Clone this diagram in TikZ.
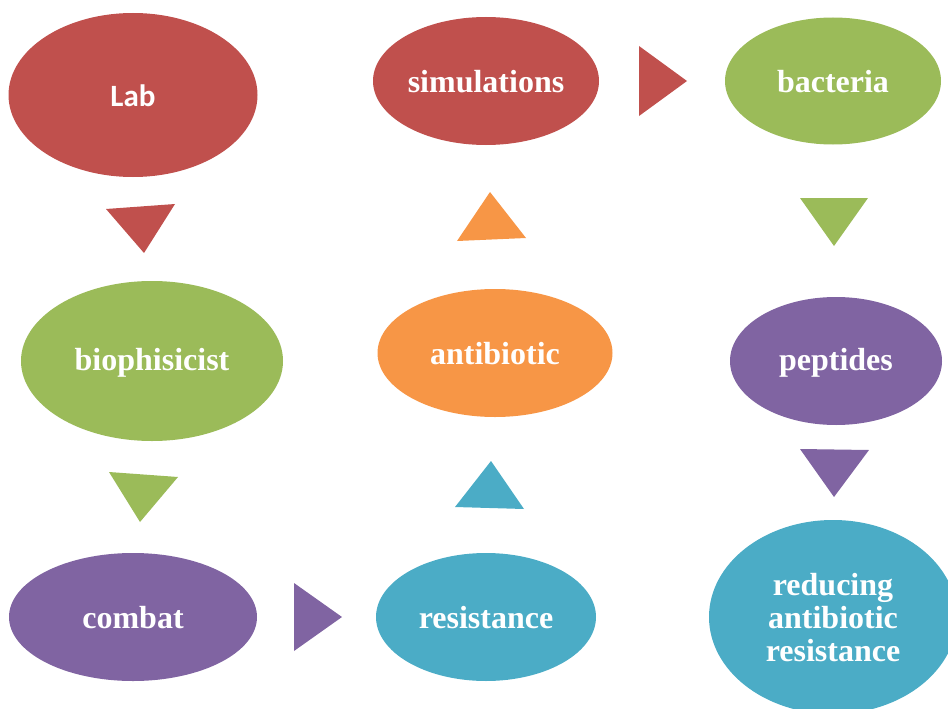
\documentclass[tikz,border=0pt]{standalone}
\usepackage{fontspec}
\setmainfont{Liberation Serif}
\newfontfamily\calfont{Carlito}
\usetikzlibrary{shapes.geometric}
\definecolor{cred}{HTML}{C0504D}
\definecolor{cgreen}{HTML}{9BBB59}
\definecolor{cpurple}{HTML}{8064A2}
\definecolor{cteal}{HTML}{4BACC6}
\definecolor{corange}{HTML}{F79646}
\tikzset{
  ell/.style={ellipse, draw=none, inner sep=0pt, text=white, align=center,
    font=\fontsize{32}{33}\selectfont\bfseries},
  lbl/.style={text=white, align=center, inner sep=0pt,
    font=\fontsize{32}{33}\selectfont\bfseries}
}
\begin{document}
\begin{tikzpicture}[x=1pt,y=-1pt]
\useasboundingbox (0,0) rectangle (948,709);
\clip (0,0) rectangle (948,709);
\node[ell, fill=cred, minimum width=249pt, minimum height=164pt] (lab) at (133,95) {};
\node[lbl, font=\calfont\fontsize{31}{33}\selectfont\bfseries] at ([yshift=-1pt]lab.center) {Lab};
\node[ell, fill=cred, minimum width=226pt, minimum height=128pt] (sim) at (486,81) {};
\node[lbl] at ([yshift=-1pt]sim.center) {simulations};
\node[ell, fill=cgreen, minimum width=216pt, minimum height=127pt] (bac) at (833,81) {};
\node[lbl] at ([yshift=-1pt]bac.center) {bacteria};
\node[ell, fill=cgreen, minimum width=262pt, minimum height=160pt] (bio) at (152,361) {};
\node[lbl] at ([yshift=-2pt]bio.center) {biophisicist};
\node[ell, fill=corange, minimum width=235pt, minimum height=128pt] (anti) at (495,353) {};
\node[lbl] at ([yshift=-1pt]anti.center) {antibiotic};
\node[ell, fill=cpurple, minimum width=212pt, minimum height=128pt] (pep) at (836,361) {};
\node[lbl] at ([yshift=-2pt]pep.center) {peptides};
\node[ell, fill=cpurple, minimum width=248pt, minimum height=128pt] (com) at (133,617) {};
\node[lbl] at ([yshift=-1pt]com.center) {combat};
\node[ell, fill=cteal, minimum width=220pt, minimum height=128pt] (res) at (486,617) {};
\node[lbl] at ([yshift=-1pt]res.center) {resistance};
\node[ell, fill=cteal, minimum width=248pt, minimum height=194pt] (red) at (833,617) {};
\node[lbl] at ([yshift=-1pt]red.center) {reducing\\antibiotic\\resistance};
% arrow triangles
\fill[cred] (106,209) -- (175,204) -- (144,253) -- cycle;
\fill[cgreen] (109,472) -- (178,477) -- (140,522) -- cycle;
\fill[cpurple] (294,583) -- (294,651) -- (342,617) -- cycle;
\fill[cteal] (455,507) -- (524,509) -- (491,461) -- cycle;
\fill[corange] (457,241) -- (526,238) -- (490,192) -- cycle;
\fill[cred] (639,46) -- (639,116) -- (687,81) -- cycle;
\fill[cgreen] (800,198) -- (868,198) -- (834,246) -- cycle;
\fill[cpurple] (800,449) -- (869,450) -- (834,497) -- cycle;
\end{tikzpicture}
\end{document}
